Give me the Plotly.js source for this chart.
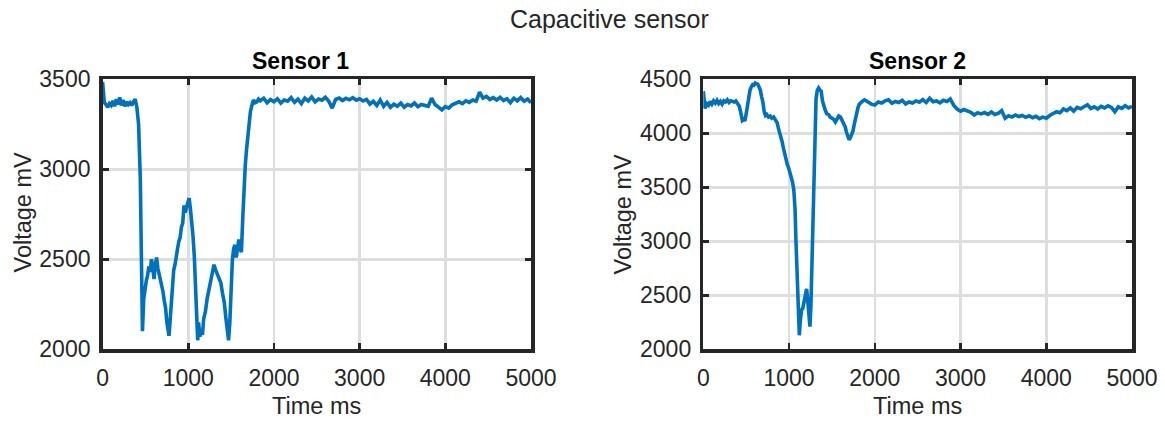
<!DOCTYPE html>
<html>
<head>
<meta charset="utf-8">
<script src="https://cdn.plot.ly/plotly-3.0.1.min.js"></script>
<style>html,body{margin:0;padding:0;background:#fff;}#chart{width:1165px;height:423px;}</style>
</head>
<body>
<div id="chart"></div>
<script>
// ---- Data ----
const chartTitle = "Capacitive sensor";
const sensorNames = ["Sensor 1", "Sensor 2"];
const xLabel = "Time ms";
const yLabel = "Voltage mV";
const xTicks = [0, 1000, 2000, 3000, 4000, 5000];
const yTicks1 = [2000, 2500, 3000, 3500];
const yTicks2 = [2000, 2500, 3000, 3500, 4000, 4500];

const time1 = [0,10,20,40,60,80,100,120,140,160,180,200,220,240,260,280,300,320,340,360,380,400,420,440,455,465,480,495,510,525,540,555,570,585,600,615,630,645,660,675,690,705,720,735,750,765,775,785,800,815,830,845,860,875,890,905,920,935,950,965,980,995,1010,1025,1040,1055,1070,1085,1100,1110,1120,1135,1150,1165,1180,1200,1220,1240,1260,1280,1300,1320,1340,1360,1380,1400,1420,1440,1455,1470,1485,1500,1515,1530,1545,1560,1575,1590,1605,1620,1635,1650,1665,1680,1695,1710,1725,1740,1760,1780,1800,1820,
1840,1880,1920,1960,2000,2040,2080,2120,2160,2200,2240,2280,2320,2360,2400,2440,2480,2520,2560,2600,2640,2680,2720,2760,2800,2840,2880,2920,2960,3000,3040,3080,3120,3160,3200,3240,3280,3320,3360,3400,3440,3480,3520,3560,3600,3640,3680,3720,3760,3800,3840,3880,3920,3960,4000,4040,4080,4120,4160,4200,4240,4280,4320,4360,4400,4440,4480,4520,4560,4600,4640,4680,4720,4760,4800,4840,4880,4920,4960,5000];
const volt1 = [3485,3420,3370,3360,3345,3365,3355,3380,3350,3390,3360,3400,3355,3385,3350,3375,3360,3370,3355,3375,3390,3345,3250,2950,2300,2100,2280,2340,2380,2410,2460,2430,2500,2460,2390,2470,2510,2450,2420,2380,2360,2320,2270,2230,2150,2100,2075,2140,2230,2370,2440,2470,2530,2560,2600,2620,2680,2700,2800,2760,2790,2820,2840,2780,2720,2630,2520,2320,2130,2050,2150,2070,2100,2080,2170,2210,2280,2330,2390,2440,2470,2440,2420,2400,2370,2310,2260,2170,2090,2050,2150,2380,2500,2560,2580,2510,2560,2610,2560,2540,2720,2900,3020,3110,3200,3260,3320,3350,3385,3370,3375,3390,
3380,3395,3370,3388,3375,3392,3368,3385,3378,3398,3372,3390,3365,3395,3380,3402,3375,3390,3384,3400,3378,3340,3388,3396,3382,3394,3386,3398,3384,3392,3380,3388,3362,3378,3355,3385,3350,3372,3345,3362,3350,3368,3345,3360,3352,3368,3348,3360,3355,3350,3395,3360,3345,3330,3348,3340,3358,3368,3375,3365,3380,3372,3385,3378,3428,3395,3405,3388,3398,3385,3400,3382,3392,3370,3395,3380,3398,3378,3390,3370];

const time2 = [0,10,20,40,60,80,100,120,140,160,180,200,220,240,260,280,300,320,340,360,380,400,420,440,455,470,485,500,515,530,545,560,575,590,605,620,635,650,665,680,695,710,725,740,760,780,800,820,840,860,875,890,905,920,935,950,965,980,995,1010,1025,1040,1055,1070,1080,1090,1100,1110,1120,1130,1145,1160,1175,1190,1205,1215,1230,1244,1255,1265,1276,1285,1295,1305,1315,1330,1345,1360,1375,1390,1405,1420,1440,1460,1480,1500,1520,1540,1560,1580,1600,1620,1640,1655,1670,1685,1700,1715,1730,1745,1760,1775,1790,1805,1820,1840,1860,1880,1900,
1920,1960,2000,2040,2080,2120,2160,2200,2240,2280,2320,2360,2400,2440,2480,2520,2560,2600,2640,2680,2720,2760,2800,2840,2880,2920,2960,3000,3040,3080,3120,3160,3200,3240,3280,3320,3360,3400,3440,3480,3520,3560,3600,3640,3680,3720,3760,3800,3840,3880,3920,3960,4000,4040,4080,4120,4160,4200,4240,4280,4320,4360,4400,4440,4480,4520,4560,4600,4640,4680,4720,4760,4800,4840,4880,4920,4960,5000];
const volt2 = [4390,4330,4230,4275,4260,4295,4270,4300,4280,4305,4275,4295,4270,4300,4290,4310,4285,4300,4295,4290,4300,4270,4250,4180,4120,4130,4115,4180,4250,4350,4400,4430,4450,4445,4465,4460,4455,4430,4400,4340,4290,4200,4165,4175,4150,4160,4140,4150,4120,4100,4050,4010,3970,3920,3860,3800,3760,3710,3680,3640,3590,3550,3480,3300,3020,2800,2600,2350,2130,2250,2360,2380,2450,2520,2560,2480,2320,2210,2400,2700,3020,3500,3900,4150,4320,4400,4420,4400,4390,4300,4250,4220,4180,4175,4150,4140,4130,4105,4130,4160,4150,4120,4100,4060,4010,3970,3940,3960,3985,4020,4080,4140,4200,4240,4270,4290,4300,4310,4300,
4285,4270,4262,4290,4280,4300,4310,4278,4295,4285,4305,4272,4290,4280,4300,4288,4312,4285,4325,4292,4300,4282,4305,4295,4318,4260,4225,4205,4220,4210,4195,4170,4190,4180,4192,4175,4198,4175,4185,4210,4140,4162,4150,4170,4155,4165,4148,4162,4145,4158,4135,4150,4140,4165,4180,4200,4190,4225,4210,4235,4205,4240,4228,4250,4265,4230,4245,4225,4250,4235,4255,4240,4200,4245,4230,4255,4235,4250];

// ---- Styling ----
const W = 1165, H = 423;
const lineColor = "#0072BD";
const axisColor = "#262626";
const gridColor = "#dedede";
const fontFam = "Liberation Sans, Arial, Helvetica, sans-serif";

function px2x(p){ return p / W; }
function px2y(p){ return 1 - p / H; }

const axisBase = {
  showgrid: true, gridcolor: gridColor, gridwidth: 2.5,
  showline: true, linecolor: axisColor, linewidth: 3.5, mirror: "ticks",
  ticks: "inside", ticklen: 6, tickwidth: 2.5, tickcolor: axisColor,
  zeroline: false, fixedrange: true,
  tickfont: {family: fontFam, size: 23, color: axisColor}
};

const traces = [
  {x: time1, y: volt1, type: "scatter", mode: "lines", xaxis: "x", yaxis: "y",
   line: {color: lineColor, width: 3.6}, hoverinfo: "skip", showlegend: false},
  {x: time2, y: volt2, type: "scatter", mode: "lines", xaxis: "x2", yaxis: "y2",
   line: {color: lineColor, width: 3.6}, hoverinfo: "skip", showlegend: false}
];

const yDom = [px2y(349.3), px2y(79.3)];
const layout = {
  width: W, height: H,
  margin: {l: 0, r: 0, t: 0, b: 0},
  paper_bgcolor: "#ffffff", plot_bgcolor: "#ffffff",
  showlegend: false,
  xaxis: Object.assign({}, axisBase, {domain: [px2x(102.6), px2x(531)], range: [0, 5000], tickvals: xTicks, ticktext: xTicks.map(String), anchor: "y", ticklabelstandoff: 6}),
  yaxis: Object.assign({}, axisBase, {domain: yDom, range: [2000, 3500], tickvals: yTicks1, ticktext: yTicks1.map(String), anchor: "x", ticklabelstandoff: 4}),
  xaxis2: Object.assign({}, axisBase, {domain: [px2x(703.3), px2x(1132)], range: [0, 5000], tickvals: xTicks, ticktext: xTicks.map(String), anchor: "y2", ticklabelstandoff: 6}),
  yaxis2: Object.assign({}, axisBase, {domain: yDom, range: [2000, 4500], tickvals: yTicks2, ticktext: yTicks2.map(String), anchor: "x2", ticklabelstandoff: 4}),
  annotations: [
    {text: chartTitle, xref: "paper", yref: "paper", x: px2x(609), y: px2y(19), xanchor: "center", yanchor: "middle", showarrow: false,
     font: {family: fontFam, size: 25, color: axisColor}},
    {text: "<b>" + sensorNames[0] + "</b>", xref: "paper", yref: "paper", x: px2x(300), y: px2y(61), xanchor: "center", yanchor: "middle", showarrow: false,
     font: {family: fontFam, size: 23, color: "#000000"}},
    {text: "<b>" + sensorNames[1] + "</b>", xref: "paper", yref: "paper", x: px2x(917.5), y: px2y(61), xanchor: "center", yanchor: "middle", showarrow: false,
     font: {family: fontFam, size: 23, color: "#000000"}},
    {text: xLabel, xref: "paper", yref: "paper", x: px2x(316.7), y: px2y(406), xanchor: "center", yanchor: "middle", showarrow: false,
     font: {family: fontFam, size: 23.5, color: axisColor}},
    {text: xLabel, xref: "paper", yref: "paper", x: px2x(917.5), y: px2y(406), xanchor: "center", yanchor: "middle", showarrow: false,
     font: {family: fontFam, size: 23.5, color: axisColor}},
    {text: yLabel, xref: "paper", yref: "paper", x: px2x(22.5), y: px2y(212), xanchor: "center", yanchor: "middle", textangle: -90, showarrow: false,
     font: {family: fontFam, size: 23.5, color: axisColor}},
    {text: yLabel, xref: "paper", yref: "paper", x: px2x(622.5), y: px2y(214), xanchor: "center", yanchor: "middle", textangle: -90, showarrow: false,
     font: {family: fontFam, size: 23.5, color: axisColor}}
  ]
};

if (time1.length !== volt1.length || time2.length !== volt2.length) {
  console.error("length mismatch", time1.length, volt1.length, time2.length, volt2.length);
}

Plotly.newPlot("chart", traces, layout, {staticPlot: true, displayModeBar: false});
</script>
</body>
</html>
